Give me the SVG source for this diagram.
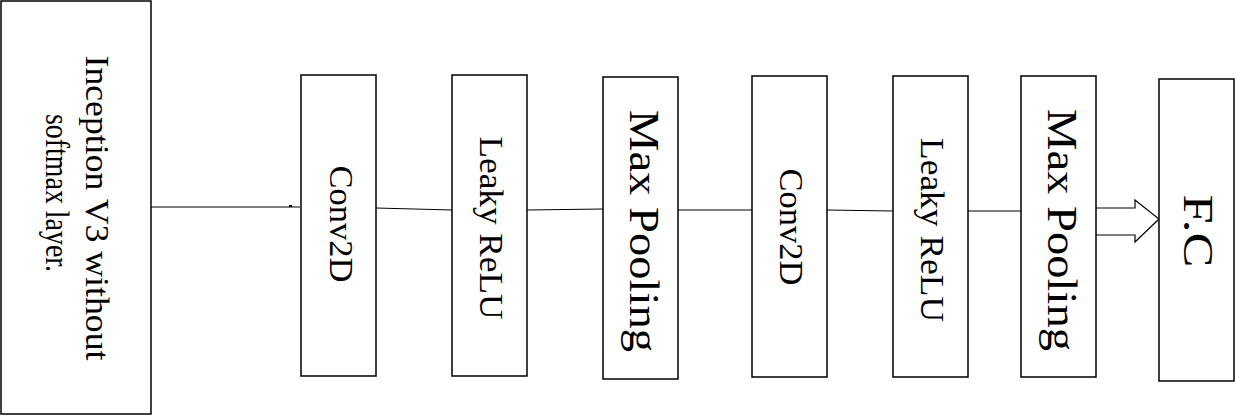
<svg xmlns="http://www.w3.org/2000/svg" width="1236" height="417" viewBox="0 0 1236 417">
<style>
.b{fill:#fff;stroke:#000;stroke-width:1.5}
.c{stroke:#000;stroke-width:1.2;fill:none}
text{font-family:"Liberation Serif",serif;fill:#000;text-anchor:middle}
.s{font-size:33px}
.l{font-size:42px}
</style>
<rect width="1236" height="417" fill="#fff"/>
<g id="connectors">
<line class="c" x1="151" y1="207" x2="300" y2="207"/>
<rect x="289" y="205" width="3" height="2" fill="#000"/>
<line class="c" x1="376" y1="208" x2="452" y2="210"/>
<line class="c" x1="527" y1="210" x2="603" y2="209"/>
<line class="c" x1="678" y1="210" x2="752" y2="210"/>
<line class="c" x1="827" y1="210" x2="893" y2="211"/>
<line class="c" x1="968" y1="211" x2="1021" y2="211"/>
<path class="c" d="M1096 208H1135V200L1159 219L1135 242V235H1096"/>
</g>
<g id="n1"><rect class="b" x="1" y="1" width="150" height="413"/>
<text class="s" transform="translate(86,208) rotate(90)" textLength="305" lengthAdjust="spacingAndGlyphs">Inception V3 without</text>
<text class="s" transform="translate(46,193) rotate(90)" textLength="158" lengthAdjust="spacingAndGlyphs">softmax layer.</text></g>
<g id="n2"><rect class="b" x="301" y="75" width="75" height="301"/>
<text class="s" transform="translate(330,224) rotate(90)" textLength="117" lengthAdjust="spacingAndGlyphs">Conv2D</text></g>
<g id="n3"><rect class="b" x="452" y="75" width="75" height="301"/>
<text class="s" transform="translate(480,228) rotate(90)" textLength="183" lengthAdjust="spacingAndGlyphs">Leaky ReLU</text></g>
<g id="n4"><rect class="b" x="603" y="77" width="75" height="302"/>
<text class="l" transform="translate(630,231) rotate(90)" textLength="242" lengthAdjust="spacingAndGlyphs">Max Pooling</text></g>
<g id="n5"><rect class="b" x="752" y="76" width="75" height="301"/>
<text class="s" transform="translate(780,227) rotate(90)" textLength="117" lengthAdjust="spacingAndGlyphs">Conv2D</text></g>
<g id="n6"><rect class="b" x="893" y="76" width="75" height="301"/>
<text class="s" transform="translate(921,230) rotate(90)" textLength="184" lengthAdjust="spacingAndGlyphs">Leaky ReLU</text></g>
<g id="n7"><rect class="b" x="1021" y="76" width="75" height="301"/>
<text class="l" transform="translate(1048,230) rotate(90)" textLength="242" lengthAdjust="spacingAndGlyphs">Max Pooling</text></g>
<g id="n8"><rect class="b" x="1159" y="79" width="75" height="302"/>
<text class="l" transform="translate(1184,231) rotate(90)" textLength="73" lengthAdjust="spacingAndGlyphs">F.C</text></g>
</svg>
